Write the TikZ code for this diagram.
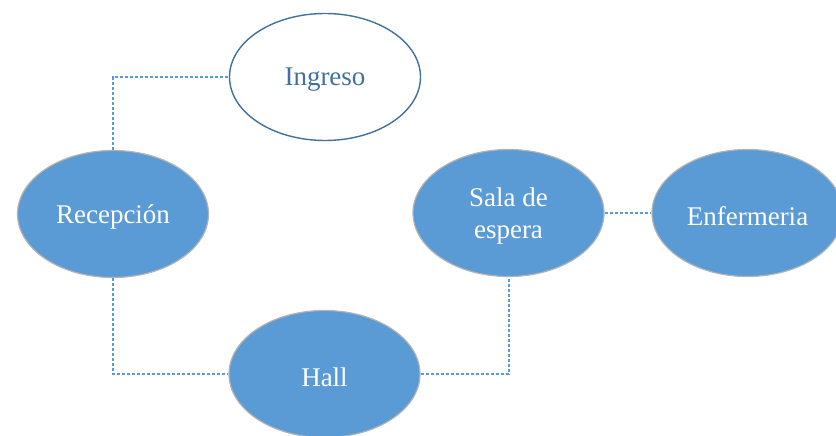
\documentclass[tikz,border=0pt]{standalone}
\usepackage{fontspec}
\setmainfont{Liberation Serif}
\usetikzlibrary{shapes.geometric}
\definecolor{fillblue}{HTML}{5B9BD5}
\definecolor{darkblue}{HTML}{41719C}
\definecolor{rimgray}{HTML}{B4B4B4}
\newcommand{\lowtext}[1]{\raisebox{-3pt}[\height][\depth]{#1}}
\tikzset{
  room/.style={ellipse, minimum width=191pt, minimum height=127pt, inner sep=0pt,
    fill=fillblue, draw=rimgray, line width=1.2pt, text=white,
    font=\fontsize{27}{32}\selectfont, align=center},
  entry/.style={ellipse, minimum width=191pt, minimum height=127pt, inner sep=0pt,
    fill=white, draw=darkblue, line width=1.4pt, text=darkblue,
    font=\fontsize{27}{32}\selectfont, align=center},
  link/.style={draw=fillblue, line width=2pt, dash pattern=on 3pt off 2pt}
}
\begin{document}
\begin{tikzpicture}[x=1pt,y=-1pt]
\useasboundingbox (0,0) rectangle (836,436);
\clip (0,0) rectangle (836,436);
\fill[white] (0,0) rectangle (836,436);
\node[entry] (ing) at (325,77) {\lowtext{Ingreso}};
\node[room] (rec) at (113,214) {\lowtext{Recepción}};
\node[room] (sala) at (508.5,213) {\lowtext{Sala de}\\\lowtext{espera}};
\node[room] (enf) at (747.5,213) {\lowtext{Enfermeria}};
\node[room] (hall) at (324.5,374) {\lowtext{Hall}};
\draw[link] (rec.north) |- (ing.west);
\draw[link] (rec.south) |- (hall.west);
\draw[link] (hall.east) -| (sala.south);
\draw[link] (sala.east) -- (enf.west);
\end{tikzpicture}
\end{document}
